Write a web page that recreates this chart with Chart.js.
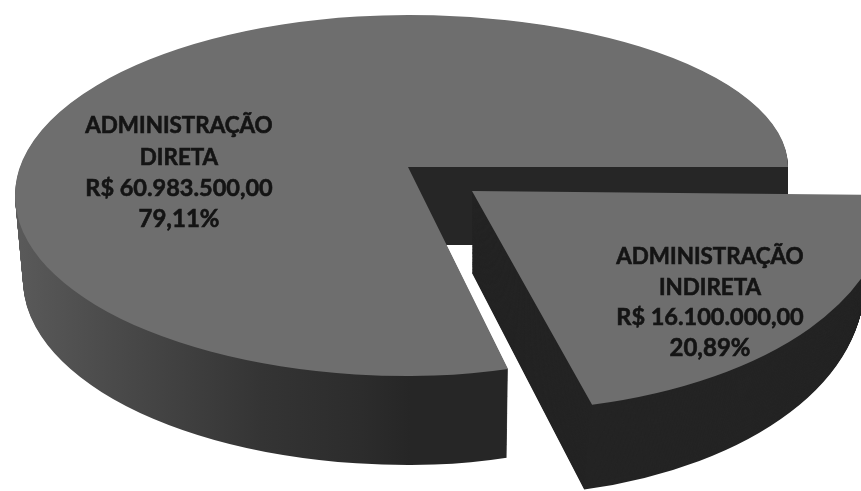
<!DOCTYPE html>
<html>
<head>
<meta charset="utf-8">
<style>
  html, body { margin: 0; padding: 0; background: #fff; overflow: hidden; }
  canvas { display: block; filter: blur(0.5px); }
</style>
<script src="https://cdn.jsdelivr.net/npm/chart.js@4/dist/chart.umd.js"></script>
</head>
<body>
<canvas id="pie" width="861" height="491"></canvas>
<script>
const categories = ['ADMINISTRAÇÃO INDIRETA', 'ADMINISTRAÇÃO DIRETA'];
const values = [16100000, 60983500];
const nameLines = [['ADMINISTRAÇÃO', 'INDIRETA'], ['ADMINISTRAÇÃO', 'DIRETA']];
const moneyLabels = ['R$ 16.100.000,00', 'R$ 60.983.500,00'];
const percentLabels = ['20,89%', '79,11%'];

const FACE = '#6e6e6e';
const WEDGE_SIDE = '#242424';
const STEPS = 90;
const lerp = (a, b, t) => a + (b - a) * t;

function drawShape(ctx, arc, color, center, u, v, clip) {
  const R = arc.outerRadius;
  const el = Object.create(arc);
  el.options = { ...arc.options, backgroundColor: color };
  ctx.save();
  ctx.beginPath();
  ctx.rect(clip[0], clip[1], clip[2], clip[3]);
  ctx.clip();
  ctx.transform(u[0] / R, u[1] / R, v[0] / R, v[1] / R, center[0], center[1]);
  ctx.translate(-arc.x, -arc.y);
  el.draw(ctx);
  ctx.restore();
}

// the big slice is three ellipse pieces, the scan has perspective in it
function drawMain(ctx, arc, color, t) {
  const apexY = 167 + 78 * t;
  const seam = Math.round(apexY);
  drawShape(ctx, arc, color, [408, lerp(195.5, 280, t)], [lerp(393, 385, t), 0], [0, lerp(180.5, 185, t)], [0, 0, 408, 491]);
  drawShape(ctx, arc, color, [408, apexY], [380, 0], [0, 152], [408, 0, 453, seam]);
  drawShape(ctx, arc, color, [408, apexY], [lerp(380, 375, t), 0], [3, lerp(209, 220, t)], [408, seam, 453, 491 - seam]);
}

function drawWedge(ctx, arc, color, t) {
  drawShape(ctx, arc, color, [472, 191 + 82 * t], [lerp(415, 392, t), 4], [lerp(14.5, 12.4, t), lerp(220, 223, t)], [0, 0, 861, 491]);
}

const pie3d = {
  id: 'pie3d',
  beforeDatasetsDraw(chart) {
    const ctx = chart.ctx;
    const [wedge, main] = chart.getDatasetMeta(0).data;

    for (let i = STEPS; i > 0; i--) drawMain(ctx, main, '#2a2a2a', i / STEPS);

    // side of the big slice gets lighter towards the left
    const shade = ctx.createLinearGradient(15, 0, 510, 0);
    shade.addColorStop(0, '#5a5a5a');
    shade.addColorStop(0.2, '#4a4a4a');
    shade.addColorStop(0.5, '#343434');
    shade.addColorStop(0.7, '#2c2c2c');
    shade.addColorStop(0.8, '#262626');
    shade.addColorStop(1, '#262626');
    ctx.save();
    ctx.globalCompositeOperation = 'source-atop';
    ctx.fillStyle = shade;
    ctx.fillRect(0, 0, 861, 491);
    ctx.restore();

    drawMain(ctx, main, main.options.backgroundColor, 0);
    for (let i = STEPS; i > 0; i--) drawWedge(ctx, wedge, WEDGE_SIDE, i / STEPS);
    drawWedge(ctx, wedge, wedge.options.backgroundColor, 0);
    return false;
  },
  afterDraw(chart) {
    const ctx = chart.ctx;
    const blocks = [
      { x: 710, y: [264, 295, 325, 356] },
      { x: 179, y: [133, 165, 196, 227] }
    ];
    const sizes = [22.4, 22.4, 23.5, 24];
    ctx.save();
    ctx.fillStyle = '#141414';
    ctx.strokeStyle = '#141414';
    ctx.lineWidth = 0.6;
    ctx.textAlign = 'center';
    ctx.textBaseline = 'alphabetic';
    blocks.forEach((b, i) => {
      const lines = [...nameLines[i], moneyLabels[i], percentLabels[i]];
      lines.forEach((line, j) => {
        ctx.font = `bold ${sizes[j]}px Lato`;
        ctx.fillText(line, b.x, b.y[j]);
        ctx.strokeText(line, b.x, b.y[j]);
      });
    });
    ctx.restore();
  }
};

new Chart(document.getElementById('pie'), {
  type: 'pie',
  data: {
    labels: categories,
    datasets: [{
      data: values,
      backgroundColor: [FACE, FACE],
      borderWidth: 0
    }]
  },
  options: {
    responsive: false,
    animation: false,
    rotation: 90,
    plugins: { legend: { display: false }, tooltip: { enabled: false } }
  },
  plugins: [pie3d]
});
</script>
</body>
</html>
